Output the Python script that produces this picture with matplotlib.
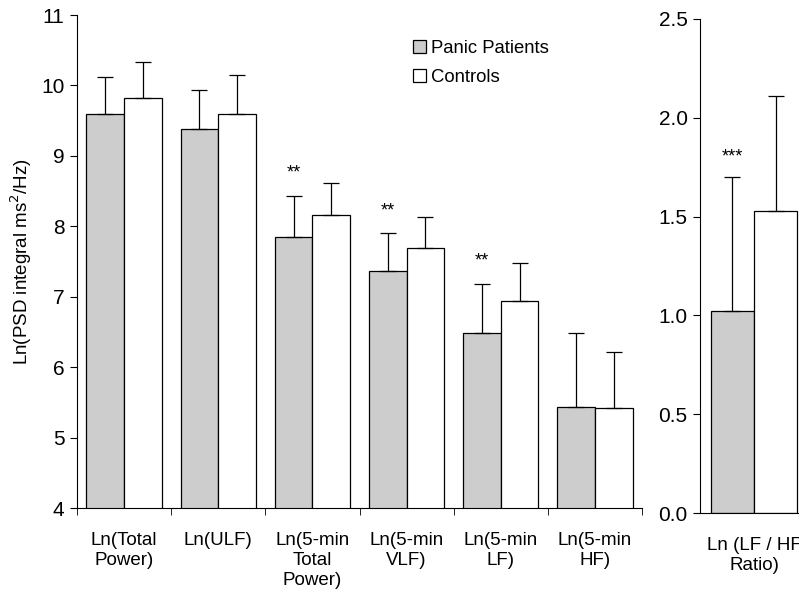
import matplotlib.pyplot as plt
import numpy as np

plt.rcParams['font.family'] = ['Liberation Sans', 'DejaVu Sans']

# Data
labels = ["Ln(Total\nPower)", "Ln(ULF)", "Ln(5-min\nTotal\nPower)",
          "Ln(5-min\nVLF)", "Ln(5-min\nLF)", "Ln(5-min\nHF)"]
panic_mean = [9.59, 9.38, 7.85, 7.36, 6.48, 5.43]
panic_err = [0.53, 0.55, 0.58, 0.54, 0.70, 1.05]
ctrl_mean = [9.82, 9.60, 8.16, 7.69, 6.94, 5.42]
ctrl_err = [0.51, 0.55, 0.46, 0.44, 0.54, 0.79]
stars = ["", "", "**", "**", "**", ""]

ratio_label = "Ln (LF / HF\nRatio)"
ratio_panic = 1.02
ratio_panic_err = 0.68
ratio_ctrl = 1.53
ratio_ctrl_err = 0.58
ratio_star = "***"

gray = "#cdcdcd"
w = 0.4

fig = plt.figure(figsize=(7.99, 5.93), dpi=100)
ax = fig.add_axes([0.0964, 0.1433, 0.7071, 0.8314])
ax2 = fig.add_axes([0.8761, 0.1349, 0.1352, 0.8331])

x = np.arange(len(labels))
ekw = dict(elinewidth=0.9, capsize=6, capthick=0.9, ecolor="black")
ax.bar(x - w / 2, panic_mean, w, color=gray, edgecolor="black", lw=0.9,
       label="Panic Patients", yerr=[np.zeros(6), panic_err], error_kw=ekw)
ax.bar(x + w / 2, ctrl_mean, w, color="white", edgecolor="black", lw=0.9,
       label="Controls", yerr=[np.zeros(6), ctrl_err], error_kw=ekw)
for i, s in enumerate(stars):
    if s:
        ax.text(x[i] - w / 2, panic_mean[i] + panic_err[i] + 0.2, s,
                ha="center", va="bottom", fontsize=13)

ax.set_ylim(4, 11)
ax.set_xlim(-0.5, 5.5)
ax.set_yticks(range(4, 12))
ax.set_xticks(x)
ax.set_xticklabels(labels, fontsize=13.5, linespacing=1.25, va="top")
ax.set_xticks(np.arange(-0.5, 6, 1), minor=True)
ax.tick_params(axis="x", which="major", length=0, pad=17)
ax.tick_params(axis="x", which="minor", length=5, direction="out")
ax.tick_params(axis="y", labelsize=15, length=5, direction="out", pad=4)
ax.set_ylabel("Ln(PSD integral ms$^2$/Hz)", fontsize=13.5, labelpad=5)
for sp in ["top", "right"]:
    ax.spines[sp].set_visible(False)

leg = ax.legend(loc="upper left", bbox_to_anchor=(0.572, 0.975), frameon=False,
                fontsize=13.3, handlelength=0.7, handleheight=0.7,
                handletextpad=0.25, labelspacing=0.62, borderaxespad=0.3)

ax2.bar([0 - w / 2], [ratio_panic], w, color=gray, edgecolor="black", lw=0.9,
        yerr=[[0], [ratio_panic_err]], error_kw=ekw)
ax2.bar([0 + w / 2], [ratio_ctrl], w, color="white", edgecolor="black", lw=0.9,
        yerr=[[0], [ratio_ctrl_err]], error_kw=ekw)
ax2.text(-w / 2, ratio_panic + ratio_panic_err + 0.06, ratio_star,
         ha="center", va="bottom", fontsize=13)
ax2.set_xlim(-0.5, 0.5)
ax2.set_ylim(0, 2.5)
ax2.set_yticks(np.arange(0, 2.51, 0.5))
ax2.set_yticklabels([f"{v:.1f}" for v in np.arange(0, 2.51, 0.5)])
ax2.set_xticks([0])
ax2.set_xticklabels([ratio_label], fontsize=13.5, linespacing=1.25)
ax2.tick_params(axis="x", length=0, pad=17)
ax2.tick_params(axis="y", labelsize=15, length=5, direction="out", pad=4)
for sp in ["top", "right"]:
    ax2.spines[sp].set_visible(False)

fig.savefig("out.png", dpi=100)
